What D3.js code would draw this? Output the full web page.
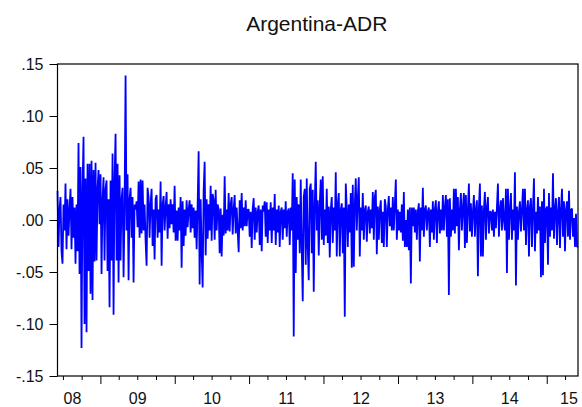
<!DOCTYPE html>
<html>
  <head>
    <meta charset="utf-8">
    <script src="https://d3js.org/d3.v7.min.js"></script>
    <style>
      body { margin: 0; background: #fff; }
      svg { display: block; font-family: Arial, "Liberation Sans", sans-serif; }
    </style>
  </head>
<body>
  <script type="text/javascript">
    "use strict";

    // daily returns, one list per calendar year
    var ret2008 = [0.028, -0.026, 0.010, 0.022, -0.030, -0.042, 0.015, -0.010, 0.035, -0.028,
      0.020, -0.015, 0.010, 0.030, -0.028, 0.022, -0.017, 0.012, -0.042, 0.015,
      -0.030, 0.074, -0.052, 0.051, -0.123, 0.030, 0.080, -0.100, 0.040, -0.108,
      0.054, -0.049, 0.054, -0.071, 0.057, -0.077, 0.048, -0.040, 0.055, -0.039,
      0.030, 0.048, -0.004];
    var ret2009 = [0.044, -0.052, 0.020, 0.041, -0.039, 0.030, 0.038, -0.049, 0.020, -0.084,
      0.038, -0.039, 0.064, -0.091, 0.040, 0.083, -0.039, 0.054, -0.060, 0.043,
      -0.039, 0.020, 0.031, -0.055, 0.010, 0.139, -0.010, 0.044, -0.058, 0.020,
      0.031, -0.017, 0.022, -0.060, 0.015,
      0.010, 0.018, -0.007, 0.037, -0.017, 0.039, -0.013, 0.038, -0.010, 0.015,
      -0.020, -0.044, 0.031, 0.022, -0.017, 0.015, 0.030, -0.025, 0.010, -0.038,
      0.020, 0.024, -0.017, 0.010, -0.012, 0.037, -0.044, 0.015, 0.023, -0.010,
      0.012, 0.027, -0.018, 0.015, -0.008, 0.020, -0.004, 0.015, -0.012, 0.033];
    var ret2010 = [-0.020, 0.009, -0.020, 0.012, -0.010, 0.022, -0.046, 0.018, -0.025, 0.010,
      -0.015, 0.019, -0.007, 0.010, 0.019, -0.012, 0.015, -0.008, 0.012, -0.017,
      0.009, -0.028, 0.015, 0.066, -0.062, 0.020, -0.030, -0.065, 0.028, 0.056,
      -0.034, 0.020, -0.018, 0.015, -0.010, 0.033, -0.020, 0.025,
      0.019, -0.019, 0.029, -0.010, 0.015, 0.010, -0.032, 0.011, -0.035, 0.005,
      -0.015, 0.042, -0.013, 0.010, -0.010, 0.026, -0.011, 0.015, 0.022, -0.014,
      0.010, 0.024, -0.013, 0.012, -0.010, -0.031, 0.019, -0.008, 0.026, -0.010,
      0.012, -0.006, 0.019, -0.006, 0.010, 0.010];
    var ret2011 = [-0.016, 0.008, -0.027, 0.011, 0.021, -0.019, 0.012, -0.012, 0.008, 0.014,
      -0.024, 0.010, -0.030, 0.014, 0.008, 0.018, -0.016, 0.017, -0.022, 0.010,
      -0.010, 0.017, -0.022, 0.012, -0.010, 0.025, -0.024, 0.010, -0.012, 0.014,
      -0.026, 0.008, 0.012, -0.019, 0.010, -0.008, 0.018, -0.016, 0.008, 0.011,
      -0.024, 0.012, -0.010, 0.045,
      -0.112, 0.039, -0.051, 0.022, -0.019, 0.015, -0.032, 0.039, -0.026, -0.078,
      0.022, 0.030, -0.043, 0.040, -0.026, -0.058, 0.030, 0.035, -0.032, 0.029,
      -0.069, 0.015, 0.056, -0.010, 0.019, -0.034, 0.015, 0.039, -0.019, 0.042];
    var ret2012 = [-0.024, 0.010, -0.015, 0.030, -0.022, 0.013, -0.036, 0.010, 0.022, -0.022,
      0.012, -0.010, 0.046, -0.035, 0.015, 0.026, -0.035, 0.010, 0.016, -0.032,
      0.012, -0.093, 0.035, 0.010, -0.026, 0.015, -0.012, 0.026, -0.046, 0.034,
      -0.045, 0.015, 0.040, -0.010, 0.020, 0.041, -0.035, 0.012, -0.010, 0.026,
      -0.019, 0.010, 0.014, -0.021, 0.008, 0.013, -0.013, 0.010, -0.008, 0.027,
      -0.019, 0.022, 0.029, -0.033, 0.013, -0.019, 0.010, 0.019, -0.022, 0.008,
      -0.026, 0.020, 0.013, -0.026, 0.010, 0.023, -0.006, 0.012, -0.010, 0.022,
      -0.010, 0.015, 0.039, -0.019, 0.010];
    var ret2013 = [-0.010, 0.008, -0.012, 0.015, -0.020, 0.027, -0.026, 0.000, -0.026, 0.010,
      -0.029, 0.012, -0.061, 0.012, -0.006, 0.012, -0.012, 0.010, -0.019, 0.008,
      0.016, -0.040, 0.012, -0.010, 0.031, -0.016, 0.010, 0.014, -0.010, 0.008,
      0.012, -0.026, 0.010, -0.012, 0.018, -0.019, 0.010, 0.019, -0.022, 0.008,
      0.018, -0.013, 0.010, -0.010, 0.024, -0.010, 0.012, 0.024, -0.016, 0.020,
      -0.072, 0.021, -0.016, 0.010, -0.010,
      0.030, -0.013, 0.030, -0.006, 0.022, -0.029, 0.010, 0.026, -0.010, 0.012,
      0.026, -0.027, 0.024, -0.022, 0.010, 0.035, -0.011, 0.016, -0.016];
    var ret2014 = [0.008, 0.024, -0.016, 0.010, 0.019, -0.054, 0.012, 0.035, -0.035, 0.014,
      -0.035, 0.010, 0.027, -0.019, 0.012, 0.022, -0.013, 0.008, 0.008, -0.010,
      0.010, -0.016, 0.008, -0.008, 0.012, 0.035, -0.016, 0.010, 0.019, -0.010,
      0.021, 0.000, -0.010, 0.030, -0.051, 0.030, -0.019, 0.010, 0.026, -0.019,
      0.010, -0.010, 0.046, -0.063, 0.013, -0.019, 0.008, 0.018, -0.011, 0.010,
      0.030, -0.010, 0.030, -0.024, 0.010, 0.019, -0.035, 0.013, 0.021, -0.026, 0.010,
      0.040, -0.030, 0.008, -0.013, 0.022, -0.010, 0.013, -0.055, 0.018, -0.053, 0.030, -0.022, 0.010];
    var ret2015 = [0.013, -0.043, 0.026, -0.016, 0.012, -0.010, 0.045, -0.018, 0.010, 0.021,
      -0.024, 0.008, 0.022, -0.027, 0.010, 0.030, -0.016, 0.018, -0.030, 0.010,
      0.018, -0.016, 0.028, -0.019, 0.010, 0.011, -0.016, 0.002, -0.026, 0.006, -0.026, -0.025];

    var yTicks = [-0.15, -0.10, -0.05, 0.00, 0.05, 0.10, 0.15];
    var yearLabels = ["08", "09", "10", "11", "12", "13", "14", "15"];
    var firstDay = new Date(2008, 5, 2),
        lastDay = new Date(2015, 5, 1);

    var width = 582, height = 407;
    var plotLeft = 57.5, plotRight = 578, plotTop = 64, plotBottom = 376;

    var svg = d3.select("body")
      .append("svg")
      .attr("width", width)
      .attr("height", height);

    // observations spread evenly across the sample
    var returns = [].concat(ret2008, ret2009, ret2010, ret2011, ret2012, ret2013, ret2014, ret2015);
    var idx = d3.scaleLinear().domain([0, returns.length - 1]).range([+firstDay, +lastDay]);
    var data = returns.map(function (v, i) { return { date: new Date(idx(i)), value: v }; });

    var x = d3.scaleTime().domain([firstDay, lastDay]).range([plotLeft, plotRight]);
    var y = d3.scaleLinear().domain([-0.15, 0.15]).range([plotBottom, plotTop]);

    // title
    svg.append("text")
      .attr("x", (plotLeft + plotRight) / 2 - 1)
      .attr("y", 30.5)
      .attr("text-anchor", "middle")
      .style("font-size", "21px")
      .style("fill", "#111")
      .text("Argentina-ADR");

    // y axis, ".05" style labels with a plain hyphen
    var fmt = function (d) {
      var s = d3.format(".2f")(Math.abs(d) < 1e-9 ? 0 : d);
      return s.replace("\u2212", "-").replace("0.", ".");
    };
    var yAxis = svg.append("g")
      .attr("transform", "translate(" + plotLeft + ",0)")
      .call(d3.axisLeft(y).tickValues(yTicks).tickFormat(fmt).tickSize(8).tickPadding(6));
    yAxis.select(".domain").remove();
    yAxis.selectAll("line").attr("stroke", "#000");
    yAxis.selectAll("text")
      .style("font-size", "16px")
      .style("font-family", "Arial, 'Liberation Sans', sans-serif")
      .attr("fill", "#111");

    // x axis: quarter ticks short, year ticks long
    var quarters = d3.timeMonth.every(3).range(firstDay, lastDay);
    svg.append("g").selectAll("line")
      .data(quarters)
      .enter()
      .append("line")
      .attr("x1", function (d) { return x(d); })
      .attr("x2", function (d) { return x(d); })
      .attr("y1", plotBottom)
      .attr("y2", function (d) { return d.getMonth() === 0 ? plotBottom + 8 : plotBottom + 4; })
      .attr("stroke", "#000")
      .attr("stroke-width", 1);

    // year labels in the middle of each year, kept inside the frame
    svg.append("g").selectAll("text")
      .data(yearLabels)
      .enter()
      .append("text")
      .attr("x", function (d) {
        var mid = x(new Date(2000 + (+d), 6, 1));
        return Math.max(plotLeft + 15, Math.min(plotRight - 9, mid));
      })
      .attr("y", 404)
      .attr("text-anchor", "middle")
      .style("font-size", "16px")
      .style("fill", "#111")
      .text(function (d) { return d; });

    // the series
    var line = d3.line()
      .x(function (d) { return x(d.date); })
      .y(function (d) { return y(d.value); });

    svg.append("path")
      .datum(data)
      .attr("d", line)
      .attr("fill", "none")
      .attr("stroke", "#0000ff")
      .attr("stroke-width", 1.8)
      .attr("stroke-linejoin", "bevel");

    // frame
    svg.append("rect")
      .attr("x", plotLeft)
      .attr("y", plotTop)
      .attr("width", plotRight - plotLeft)
      .attr("height", plotBottom - plotTop)
      .attr("fill", "none")
      .attr("stroke", "#000")
      .attr("stroke-width", 1.2);
  </script>
</body>
</html>
